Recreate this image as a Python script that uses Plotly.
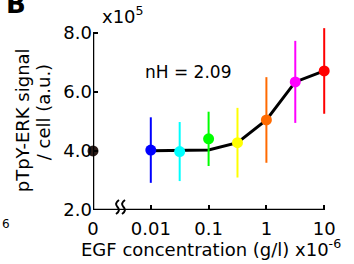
import math
import plotly.graph_objects as go

# ---- data ----
conc_labels = ["0", "0.01", "0.0316", "0.1", "0.316", "1", "3.16", "10"]
conc = [0, 0.01, 0.0316, 0.1, 0.316, 1, 3.16, 10]          # EGF (g/l) x1e-6
signal = [4.0, 4.03, 3.98, 4.41, 4.28, 5.05, 6.34, 6.71]     # x1e5
err = [0, 1.11, 1.0, 0.92, 1.18, 1.45, 1.39, 1.45]
fit = [None, 4.01, 4.01, 4.03, 4.28, 5.05, 6.34, 6.71]
colors = ["#2b1b17", "#0000ff", "#00ffff", "#00ff00", "#ffff00", "#ff6a00", "#ff00ff", "#ff0000"]

xtick_vals = [0, 0.01, 0.1, 1, 10]
xtick_text = ["0", "0.01", "0.1", "1", "10"]
ytick_vals = [2.0, 4.0, 6.0, 8.0]

ZERO_POS = -3.0  # position of the "0" category on the log10 axis


def xpos(c):
    return ZERO_POS if c == 0 else math.log10(c)


# ---- layout geometry ----
W, H = 354, 264
L, R, T, B = 93, 22, 23.5, 54
PW, PH = W - L - R, H - T - B
XR = [ZERO_POS, ZERO_POS + PW / 57.8]
YR = [2.0, 2.0 + PH / 29.6]


def px(x):
    return (x - L) / PW


def py(y):
    return (H - B - y) / PH


FONT = "DejaVu Sans"

fig = go.Figure()

xs = [xpos(c) for c in conc]

# fit line
fig.add_trace(go.Scatter(x=xs[1:], y=fit[1:], mode="lines",
                         line=dict(color="black", width=3),
                         hoverinfo="skip", showlegend=False, cliponaxis=False))

# points with error bars
for i in range(len(conc)):
    fig.add_trace(go.Scatter(
        x=[xs[i]], y=[signal[i]], mode="markers",
        marker=dict(color=colors[i], size=11, line=dict(width=0)),
        error_y=dict(type="data", array=[err[i]], visible=err[i] > 0,
                     color=colors[i], thickness=2, width=0),
        showlegend=False, cliponaxis=False, name=conc_labels[i]))

shapes = []
# axis lines
shapes.append(dict(type="line", xref="x", yref="y", x0=ZERO_POS, x1=xpos(10), y0=2.0, y1=2.0,
                   line=dict(color="black", width=2.5)))
shapes.append(dict(type="line", xref="x", yref="y", x0=ZERO_POS, x1=ZERO_POS, y0=2.0, y1=8.0,
                   line=dict(color="black", width=2.5)))

# axis break squiggles
for cx in (117.5, 123.5):
    top, bot = 200, 214
    mid = (top + bot) / 2
    path = (f"M {px(cx + 1.5)},{py(top)} "
            f"Q {px(cx - 3.5)},{py(top + 3.5)} {px(cx)},{py(mid)} "
            f"Q {px(cx + 3.5)},{py(bot - 3.5)} {px(cx - 1.5)},{py(bot)}")
    shapes.append(dict(type="path", xref="paper", yref="paper", path=path,
                       line=dict(color="black", width=2)))

annotations = [
    dict(text="<b>B</b>", x=px(4), y=py(3), xref="paper", yref="paper",
         xanchor="left", yanchor="middle", showarrow=False,
         font=dict(family=FONT, size=26, color="black")),
    dict(text="x10<sup>5</sup>", x=px(100), y=py(29), xref="paper", yref="paper",
         xanchor="left", yanchor="bottom", showarrow=False,
         font=dict(family=FONT, size=18, color="black")),
    dict(text="nH = 2.09", x=px(188), y=py(72), xref="paper", yref="paper",
         xanchor="center", yanchor="middle", showarrow=False,
         font=dict(family=FONT, size=17, color="black")),
    dict(text="EGF concentration (g/l) x10<sup>-6</sup>", x=px(211), y=py(248),
         xref="paper", yref="paper", xanchor="center", yanchor="middle", showarrow=False,
         font=dict(family=FONT, size=18, color="black")),
    dict(text="pTpY-ERK signal", x=px(22), y=py(120), xref="paper", yref="paper",
         xanchor="center", yanchor="middle", textangle=-90, showarrow=False,
         font=dict(family=FONT, size=18, color="black")),
    dict(text="/ cell (a.u.)", x=px(43), y=py(112), xref="paper", yref="paper",
         xanchor="center", yanchor="middle", textangle=-90, showarrow=False,
         font=dict(family=FONT, size=18, color="black")),
    dict(text="6", x=px(6), y=py(224), xref="paper", yref="paper",
         xanchor="center", yanchor="middle", showarrow=False,
         font=dict(family=FONT, size=12, color="black")),
]

fig.update_layout(
    width=W, height=H,
    margin=dict(l=L, r=R, t=T, b=B, pad=0),
    paper_bgcolor="white", plot_bgcolor="white",
    font=dict(family=FONT, size=18, color="black"),
    shapes=shapes, annotations=annotations,
    xaxis=dict(range=XR, tickmode="array", tickvals=[xpos(v) for v in xtick_vals],
               ticktext=xtick_text, ticks="inside", ticklen=5, tickwidth=2,
               tickcolor="black", showline=False, showgrid=False, zeroline=False,
               tickfont=dict(family=FONT, size=18), ticklabelstandoff=6),
    yaxis=dict(range=YR, tickmode="array", tickvals=ytick_vals,
               ticktext=[f"{v:.1f}" for v in ytick_vals], ticks="inside", ticklen=5,
               tickwidth=2, tickcolor="black", showline=False, showgrid=False,
               zeroline=False, tickfont=dict(family=FONT, size=18)),
)

fig.write_html("out.html", config={"displayModeBar": False},
               post_script="document.body.style.margin='0px';")
